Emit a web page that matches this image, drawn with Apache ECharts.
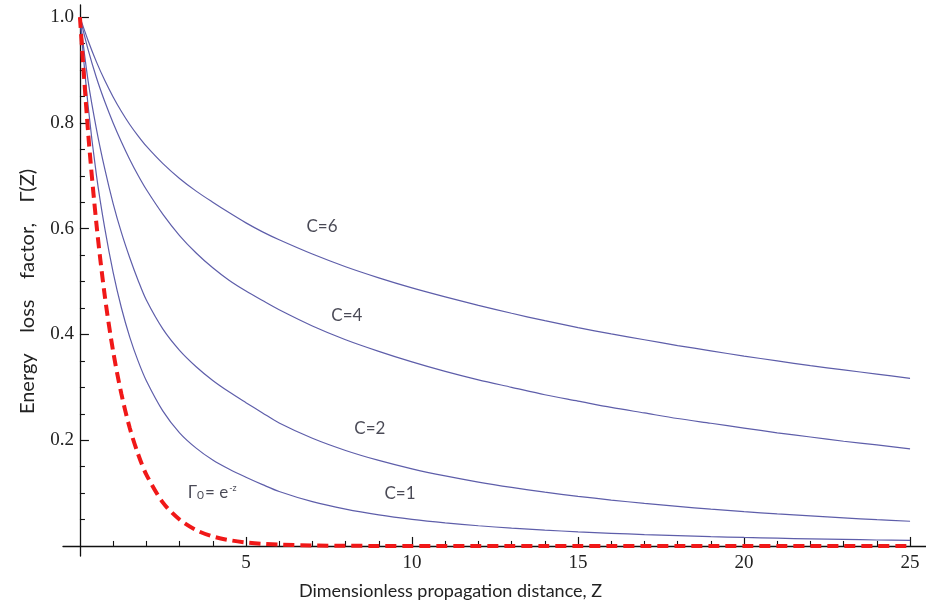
<!DOCTYPE html>
<html>
<head>
<meta charset="utf-8">
<script src="https://cdn.jsdelivr.net/npm/echarts@6/dist/echarts.min.js"></script>
<style>
  html, body { margin: 0; padding: 0; background: #ffffff; }
  #chart { width: 926px; height: 607px; }
</style>
</head>
<body>
<div id="chart"></div>
<script>
// Dimensionless propagation distance Z
const zValues = [0, 0.25, 0.5, 0.75, 1, 1.25, 1.5, 1.75, 2, 2.5, 3, 3.5, 4, 4.5, 5, 5.5, 6, 7, 8, 9, 10, 11, 12, 13, 14, 15, 16, 17, 18, 19, 20, 21, 22, 23, 24, 25];

// Energy loss factor Γ(Z) for each value of C
const lossC6 = [1, 0.955, 0.915, 0.880, 0.849, 0.8215, 0.797, 0.7755, 0.756, 0.723, 0.695, 0.671, 0.650, 0.630, 0.611, 0.594, 0.579, 0.552, 0.528, 0.507, 0.488, 0.471, 0.455, 0.440, 0.426, 0.413, 0.401, 0.390, 0.379, 0.369, 0.359, 0.350, 0.341, 0.333, 0.325, 0.317];
const lossC4 = [1, 0.9375, 0.885, 0.840, 0.800, 0.764, 0.731, 0.701, 0.674, 0.627, 0.587, 0.554, 0.526, 0.502, 0.482, 0.464, 0.4466, 0.416, 0.390, 0.368, 0.348, 0.330, 0.314, 0.300, 0.286, 0.274, 0.262, 0.2515, 0.241, 0.232, 0.223, 0.214, 0.206, 0.198, 0.191, 0.1835];
const lossC2 = [1, 0.8775, 0.7875, 0.7125, 0.6475, 0.5925, 0.545, 0.5025, 0.465, 0.410, 0.370, 0.339, 0.313, 0.291, 0.271, 0.2515, 0.2325, 0.2036, 0.1806, 0.1617, 0.1458, 0.1324, 0.1208, 0.1107, 0.1017, 0.0939, 0.0868, 0.0805, 0.0748, 0.0696, 0.0649, 0.0606, 0.0567, 0.0531, 0.0497, 0.0467];
const lossC1 = [1, 0.830, 0.700, 0.600, 0.5175, 0.450, 0.395, 0.350, 0.3125, 0.255, 0.214, 0.185, 0.1625, 0.145, 0.130, 0.116, 0.103, 0.0837, 0.0696, 0.0588, 0.0504, 0.0437, 0.0382, 0.0337, 0.0299, 0.0267, 0.0239, 0.0215, 0.0195, 0.0177, 0.0161, 0.0147, 0.0134, 0.0123, 0.0113, 0.0104];
// Reference loss Γ0 = e^-Z
const lossRef = [1, 0.779, 0.607, 0.472, 0.368, 0.287, 0.223, 0.174, 0.135, 0.082, 0.050, 0.030, 0.018, 0.011, 0.0067, 0.0041, 0.0025, 0.0009, 0.0003, 0.0001, 0, 0, 0, 0, 0, 0, 0, 0, 0, 0, 0, 0, 0, 0, 0, 0];

// Tick positions and labels
const xMajorTicks = [5, 10, 15, 20, 25];
const xMinorTicks = [1, 2, 3, 4, 6, 7, 8, 9, 11, 12, 13, 14, 16, 17, 18, 19, 21, 22, 23, 24];
const yMajorTicks = [0.2, 0.4, 0.6, 0.8, 1.0];
const yMinorTicks = [0.05, 0.1, 0.15, 0.25, 0.3, 0.35, 0.45, 0.5, 0.55, 0.65, 0.7, 0.75, 0.85, 0.9, 0.95];

const pairs = (ys) => zValues.map((z, i) => [z, ys[i]]);

// The axes cross at the origin, and run a little past it in both directions
const X_MIN = -0.51, X_MAX = 25.48;
const Y_MIN = -0.019, Y_MAX = 1.023;
const AXIS_COLOR = '#111';
const CURVE_COLOR = '#5e5eaa';
const SERIF = '"Liberation Serif", "DejaVu Serif", serif';
const SANS = 'Lato, "Liberation Sans", sans-serif';
const tickFont = { fontFamily: SERIF, fontSize: 19, color: '#222' };

function curve(name, ys) {
  return {
    name, type: 'line', data: pairs(ys), xAxisIndex: 0, yAxisIndex: 0,
    showSymbol: false, smooth: 0.3, silent: true,
    lineStyle: { color: CURVE_COLOR, width: 1.2 }, z: 3
  };
}

const noteColor = '#1c1c2a';
const notes = [
  { value: [7.29, 0.605], text: 'C=6' },
  { value: [8.04, 0.435], text: 'C=4' },
  { value: [8.73, 0.223], text: 'C=2' },
  { value: [9.64, 0.099], text: 'C=1' },
  { value: [3.98, 0.103], text: '{n|Γ}{s|0}{n|= e}{p|-z}' }
];

const option = {
  backgroundColor: '#ffffff',
  animation: false,
  grid: { left: 63, right: 0, top: 5, bottom: 51, containLabel: false, outerBoundsMode: 'none' },
  xAxis: [
    {
      type: 'value', min: X_MIN, max: X_MAX, position: 'bottom',
      axisLine: { show: true, onZero: true, lineStyle: { color: AXIS_COLOR, width: 1.3 } },
      axisTick: { show: true, inside: true, length: 9, customValues: xMajorTicks, lineStyle: { color: AXIS_COLOR, width: 1.2 } },
      axisLabel: { show: true, customValues: xMajorTicks, margin: -2, ...tickFont, formatter: (v) => String(Math.round(v)) },
      splitLine: { show: false },
      name: 'Dimensionless propagation distance, Z',
      nameLocation: 'middle', nameGap: 26,
      nameTextStyle: { fontFamily: SANS, fontSize: 18, color: '#222', padding: [0, 88, 0, 0] }
    },
    {
      type: 'value', min: X_MIN, max: X_MAX, position: 'bottom',
      axisLine: { show: false, onZero: true, onZeroAxisIndex: 0 },
      axisTick: { show: true, inside: true, length: 5, customValues: xMinorTicks, lineStyle: { color: AXIS_COLOR, width: 1.1 } },
      axisLabel: { show: false },
      splitLine: { show: false }
    }
  ],
  yAxis: [
    {
      type: 'value', min: Y_MIN, max: Y_MAX, position: 'left',
      axisLine: { show: true, onZero: true, lineStyle: { color: AXIS_COLOR, width: 1.3 } },
      axisTick: { show: true, inside: true, length: 9, customValues: yMajorTicks, lineStyle: { color: AXIS_COLOR, width: 1.2 } },
      axisLabel: { show: true, customValues: yMajorTicks, margin: -11, ...tickFont, formatter: (v) => v.toFixed(1) },
      splitLine: { show: false },
      name: 'Energy    loss    factor,    Γ(Z)',
      nameLocation: 'middle', nameGap: 25, nameRotate: 90,
      nameTextStyle: { fontFamily: SANS, fontSize: 20, color: '#222', padding: [0, 22, 0, 0] }
    },
    {
      type: 'value', min: Y_MIN, max: Y_MAX, position: 'left',
      axisLine: { show: false, onZero: true, onZeroAxisIndex: 0 },
      axisTick: { show: true, inside: true, length: 5, customValues: yMinorTicks, lineStyle: { color: AXIS_COLOR, width: 1.1 } },
      axisLabel: { show: false },
      splitLine: { show: false }
    }
  ],
  series: [
    curve('C=6', lossC6),
    curve('C=4', lossC4),
    curve('C=2', lossC2),
    curve('C=1', lossC1),
    {
      name: 'Γ0', type: 'line', data: pairs(lossRef), xAxisIndex: 0, yAxisIndex: 0,
      showSymbol: false, smooth: 0.3, silent: true,
      lineStyle: { color: '#f01818', width: 4, type: [11, 6] }, z: 4
    },
    {
      name: 'notes', type: 'scatter', xAxisIndex: 0, yAxisIndex: 0, silent: true,
      symbolSize: 1, itemStyle: { color: 'rgba(0,0,0,0)' },
      data: notes.map((n) => ({ value: n.value, label: { formatter: n.text } })),
      label: {
        show: true, position: 'inside', fontFamily: SANS, fontSize: 17, color: noteColor,
        rich: {
          n: { fontFamily: SANS, fontSize: 17, color: noteColor, lineHeight: 20, verticalAlign: 'bottom' },
          s: { fontFamily: SANS, fontSize: 12, color: noteColor, lineHeight: 20, verticalAlign: 'bottom', padding: [0, 1, 0, 0] },
          p: { fontFamily: SANS, fontSize: 9, color: noteColor, lineHeight: 20, verticalAlign: 'top', padding: [2, 0, 0, 1] }
        }
      },
      z: 5
    }
  ]
};

const chart = echarts.init(document.getElementById('chart'), null, { renderer: 'canvas' });
chart.setOption(option);
</script>
</body>
</html>
